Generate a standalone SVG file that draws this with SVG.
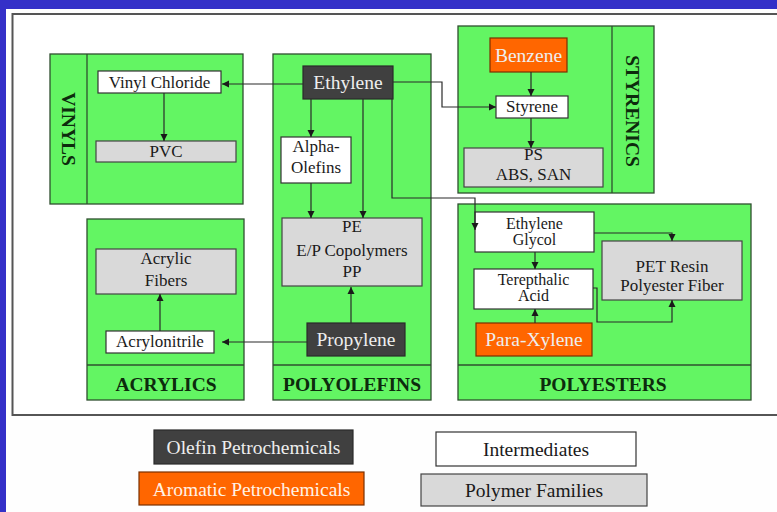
<svg xmlns="http://www.w3.org/2000/svg" width="777" height="512" viewBox="0 0 777 512">
<defs>
<marker id="ah" markerWidth="8" markerHeight="8" refX="7" refY="4" orient="auto" markerUnits="userSpaceOnUse">
<path d="M0,0.5 L7,4 L0,7.5 z" fill="#1a1a1a"/>
</marker>
<style>
.grp{fill:#63f563;stroke:#2f4f2f;stroke-width:1.3}
.div{stroke:#2f4f2f;stroke-width:1.3;fill:none}
.wht{fill:#ffffff;stroke:#333;stroke-width:1.2}
.gry{fill:#d9d9d9;stroke:#444;stroke-width:1.2}
.drk{fill:#404040;stroke:#2a2a2a;stroke-width:1.2}
.org{fill:#ff6600;stroke:#7a3000;stroke-width:1.2}
.t,.tl,.lab,.leg,.ts{font-family:'Liberation Serif','DejaVu Serif',serif;text-anchor:middle}
.t{font-size:17px;fill:#1a1a1a}
.ts{font-size:16px;fill:#1a1a1a}
.tl{font-size:19.5px;fill:#eeeeee}
.lab{font-size:19.5px;font-weight:bold;fill:#0d2b0d}
.leg{font-size:19.5px}
.c{fill:none;stroke:#2a2a2a;stroke-width:1.2;marker-end:url(#ah)}
</style>
</defs>
<rect x="0" y="0" width="777" height="512" fill="#fefefe"/>
<rect x="0" y="0" width="777" height="9" fill="#3430c8"/>
<rect x="0" y="0" width="6" height="512" fill="#3430c8"/>
<rect x="12.5" y="14" width="790" height="401" fill="#ffffff" stroke="#555" stroke-width="2"/>

<g id="vinyls">
<rect class="grp" x="50" y="54" width="193" height="150"/>
<line class="div" x1="87" y1="54" x2="87" y2="204"/>
<text class="lab" font-family="Liberation Serif, serif" transform="translate(62,129) rotate(90)">VINYLS</text>
</g>
<g id="polyolefins">
<rect class="grp" x="273" y="54" width="158" height="346"/>
<line class="div" x1="273" y1="365" x2="431" y2="365"/>
<text class="lab" x="352" y="391">POLYOLEFINS</text>
</g>
<g id="acrylics">
<rect class="grp" x="87" y="219" width="157" height="181"/>
<line class="div" x1="87" y1="365" x2="244" y2="365"/>
<text class="lab" x="166" y="391">ACRYLICS</text>
</g>
<g id="styrenics">
<rect class="grp" x="458" y="26" width="196" height="167"/>
<line class="div" x1="612" y1="26" x2="612" y2="193"/>
<text class="lab" transform="translate(626,111) rotate(90)">STYRENICS</text>
</g>
<g id="polyesters">
<rect class="grp" x="458" y="204" width="293" height="196"/>
<line class="div" x1="458" y1="365" x2="751" y2="365"/>
<text class="lab" x="603" y="391">POLYESTERS</text>
</g>

<g id="vinyl-chloride"><rect class="wht" x="98" y="71" width="123" height="22"/><text class="t" x="159.5" y="87.5">Vinyl Chloride</text></g>
<g id="pvc"><rect class="gry" x="96" y="141" width="140" height="21"/><text class="t" x="166" y="157">PVC</text></g>
<g id="ethylene"><rect class="drk" x="303" y="66" width="90" height="33"/><text class="tl" x="348" y="89">Ethylene</text></g>
<g id="alpha-olefins"><rect class="wht" x="281" y="137" width="70" height="46"/><text class="t" x="316" y="152">Alpha-</text><text class="t" x="316" y="173">Olefins</text></g>
<g id="pe"><rect class="gry" x="282" y="218" width="140" height="68"/><text class="t" x="352" y="232">PE</text><text class="t" x="352" y="256">E/P Copolymers</text><text class="t" x="352" y="277">PP</text></g>
<g id="propylene"><rect class="drk" x="307" y="323" width="98" height="33"/><text class="tl" x="356" y="346">Propylene</text></g>
<g id="acrylic-fibers"><rect class="gry" x="96" y="249" width="140" height="45"/><text class="t" x="166" y="264">Acrylic</text><text class="t" x="166" y="286">Fibers</text></g>
<g id="acrylonitrile"><rect class="wht" x="106" y="331" width="108" height="22"/><text class="t" x="160" y="347">Acrylonitrile</text></g>
<g id="benzene"><rect class="org" x="490" y="38" width="77" height="34"/><text class="tl" x="528.5" y="62">Benzene</text></g>
<g id="styrene"><rect class="wht" x="496" y="96" width="72" height="22"/><text class="t" x="532" y="112">Styrene</text></g>
<g id="ps"><rect class="gry" x="464" y="148" width="139" height="39"/><text class="t" x="533.5" y="160">PS</text><text class="t" x="533.5" y="180">ABS, SAN</text></g>
<g id="ethylene-glycol"><rect class="wht" x="475" y="212" width="119" height="40"/><text class="ts" x="534.5" y="228.5">Ethylene</text><text class="ts" x="534.5" y="245">Glycol</text></g>
<g id="terepthalic-acid"><rect class="wht" x="474" y="269" width="119" height="40"/><text class="ts" x="533.5" y="284.5">Terepthalic</text><text class="ts" x="533.5" y="301">Acid</text></g>
<g id="para-xylene"><rect class="org" x="476" y="323" width="116" height="33"/><text class="tl" x="534" y="346">Para-Xylene</text></g>
<g id="pet"><rect class="gry" x="602" y="241" width="140" height="59"/><text class="t" x="672" y="272">PET Resin</text><text class="t" x="672" y="291">Polyester Fiber</text></g>

<g id="connectors">
<path class="c" d="M303,84 H222"/>
<path class="c" d="M164,93 V141"/>
<path class="c" d="M311,99 V137"/>
<path class="c" d="M363,99 V218"/>
<path class="c" d="M311,183 V218"/>
<path class="c" d="M351,323 V287"/>
<path class="c" d="M307,342 H222"/>
<path class="c" d="M160,331 V294"/>
<path class="c" d="M393,82 H442 V107 H496"/>
<path class="c" d="M392,99 V198 H475 V230"/>
<path class="c" d="M531,72 V96"/>
<path class="c" d="M531,118 V148"/>
<path class="c" d="M535,252 V269"/>
<path class="c" d="M535,323 V309"/>
<path class="c" d="M594,233 H672 V241"/>
<path class="c" d="M593,288 H597 V322 H672 V300"/>
</g>

<g id="legend-olefin"><rect class="drk" x="154" y="430" width="199" height="34"/><text class="leg" x="253.5" y="454" fill="#eeeeee">Olefin Petrochemicals</text></g>
<g id="legend-aromatic"><rect class="org" x="139" y="472" width="225" height="33"/><text class="leg" x="251.5" y="496" fill="#fff2e6">Aromatic Petrochemicals</text></g>
<g id="legend-intermediates"><rect class="wht" x="436" y="432" width="200" height="34"/><text class="leg" x="536" y="456" fill="#1a1a1a">Intermediates</text></g>
<g id="legend-polymer"><rect class="gry" x="421" y="474" width="226" height="32"/><text class="leg" x="534" y="497" fill="#1a1a1a">Polymer Families</text></g>
</svg>
